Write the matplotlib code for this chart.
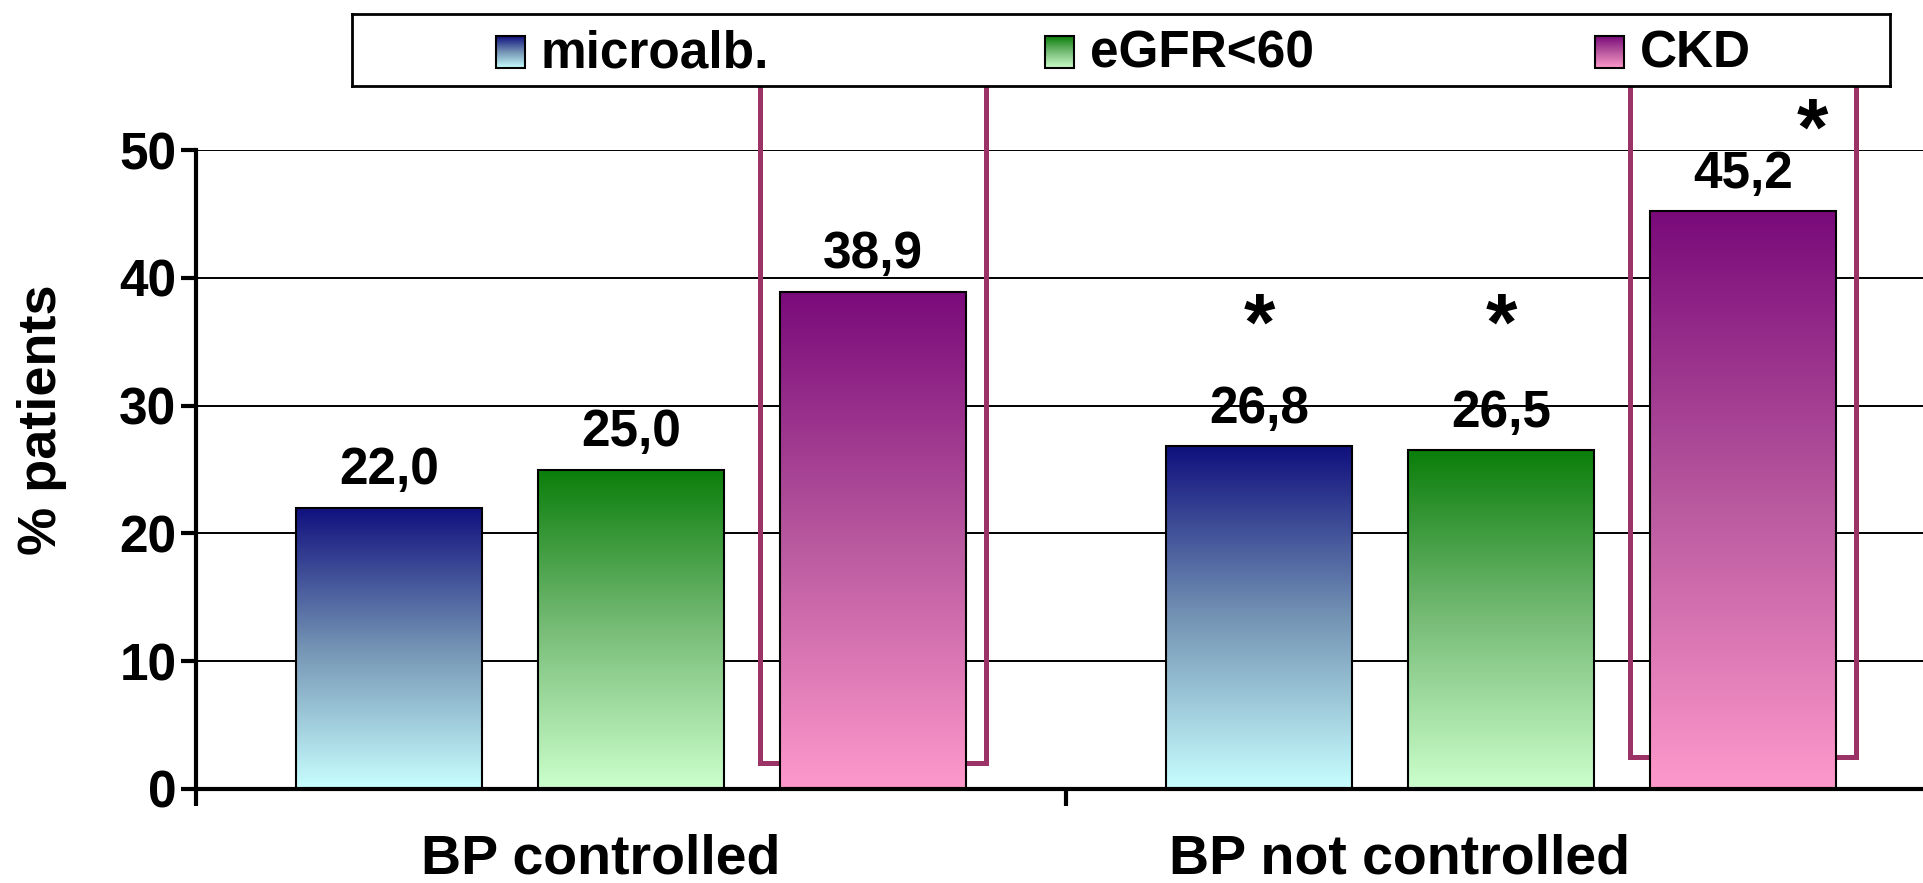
import numpy as np
import matplotlib
matplotlib.use("Agg")
import matplotlib.pyplot as plt
from matplotlib.colors import LinearSegmentedColormap
from matplotlib.patches import Rectangle
from matplotlib import transforms

plt.rcParams['font.family'] = ['Liberation Sans', 'DejaVu Sans']
plt.rcParams['font.weight'] = 'bold'

# ---- data -------------------------------------------------------------
groups = ["BP controlled", "BP not controlled"]
series = ["microalb.", "eGFR<60", "CKD"]
microalb = [22.0, 26.8]
egfr = [25.0, 26.5]
ckd = [38.9, 45.2]
yticks = [0, 10, 20, 30, 40, 50]
# significance marks (group index, series index)
stars = [(1, 0), (1, 1), (1, 2)]

values = [microalb, egfr, ckd]
# gradient colours (bottom, middle, top) for each series
grad_colors = [("#C8FFFF", "#7494B4", "#10107E"),
               ("#CCFFCC", "#78BC78", "#0A7E0A"),
               ("#FF99CC", "#B8589E", "#7A0A7A")]
bracket_color = "#9C3366"

W, H = 1924, 883
fig = plt.figure(figsize=(W / 100, H / 100), dpi=100)
ax = fig.add_axes([196 / W, 94 / H, 1740 / W, 639 / H])

x = np.arange(len(groups))
offsets = [-0.278, 0.0, 0.278]
width = 0.213
grad = np.linspace(0, 1, 256).reshape(-1, 1)
cmaps = [LinearSegmentedColormap.from_list(name, cols)
         for name, cols in zip(series, grad_colors)]

# ---- bars with vertical gradients ------------------------------------
for i, vals in enumerate(values):
    bars = ax.bar(x + offsets[i], vals, width, facecolor='none',
                  edgecolor='black', linewidth=1.5, zorder=4)
    for b, v in zip(bars, vals):
        x0 = b.get_x()
        ax.imshow(grad, extent=[x0, x0 + b.get_width(), 0, b.get_height()],
                  origin='lower', aspect='auto', cmap=cmaps[i], zorder=3.9,
                  interpolation='bilinear')
        ax.annotate(f"{v:.1f}".replace('.', ','), (b.get_x() + b.get_width() / 2, v),
                    xytext=(0, 17), textcoords='offset points',
                    ha='center', va='baseline', fontsize=37, fontweight='bold')

# ---- open brackets around the CKD bars --------------------------------
bracket_bottoms = [2.0, 2.5]
for g, yb in zip(x, bracket_bottoms):
    xc = g + offsets[2]
    xl, xr = xc - 0.13, xc + 0.13
    ax.plot([xl, xl, xr, xr], [55, yb, yb, 55], color=bracket_color,
            lw=3.6, zorder=3, clip_on=False, solid_joinstyle='miter')

# ---- significance stars -----------------------------------------------
for g, s in stars:
    if s < 2:
        sx, sy = g + offsets[s], 36.0
    else:
        sx, sy = g + offsets[s] + 0.08, 51.3
    ax.text(sx, sy, "*", ha='center', va='center', fontsize=58,
            fontweight='bold', clip_on=False, zorder=6)

# ---- axes styling -----------------------------------------------------
ax.set_xlim(-0.5, 1.5)
ax.set_ylim(0, 50)
ax.set_yticks(yticks)
ax.set_yticklabels([str(t) for t in yticks], fontsize=37, fontweight='bold')
ax.tick_params(axis='y', direction='out', length=11, width=3, pad=3)
ax.set_xticks([-0.5, 0.5, 1.5])
ax.set_xticklabels([])
ax.tick_params(axis='x', direction='out', length=12, width=3)
ax.yaxis.grid(True, color='black', linewidth=1.4)
ax.set_axisbelow(True)
for side in ('top', 'right'):
    ax.spines[side].set_visible(False)
ax.spines['left'].set_linewidth(3)
ax.spines['bottom'].set_linewidth(3)
ax.spines['bottom'].set_zorder(5)

# category labels
lab_tr = transforms.blended_transform_factory(ax.transData, fig.transFigure)
for xpos, name in zip([-0.035, 0.883], groups):
    ax.text(xpos, 10 / H, name, transform=lab_tr, ha='center', va='baseline',
            fontsize=40, fontweight='bold', clip_on=False)

fig.text(42 / W, (H - 420) / H, "% patients", rotation=90, ha='center',
         va='center', fontsize=39, fontweight='bold')

# ---- legend box -------------------------------------------------------
lx0, lx1, ly0, ly1 = 352, 1890, 86, 13.5
lax = fig.add_axes([lx0 / W, (H - ly0) / H, (lx1 - lx0) / W, (ly0 - ly1) / H],
                   zorder=10)
lax.set_xticks([])
lax.set_yticks([])
for sp in lax.spines.values():
    sp.set_linewidth(2)
for i, mx in enumerate([496, 1045, 1595]):
    lax.imshow(grad, extent=[mx, mx + 29, 68, 36], origin='lower',
               aspect='auto', cmap=cmaps[i], interpolation='bilinear')
    lax.add_patch(Rectangle((mx, 36), 29, 32, facecolor='none',
                            edgecolor='black', lw=1.5))
    lax.text(mx + 45, 68, series[i], ha='left', va='baseline',
             fontsize=37, fontweight='bold')
lax.set_xlim(lx0, lx1)
lax.set_ylim(ly0, ly1)

fig.savefig("out.png", dpi=100)
